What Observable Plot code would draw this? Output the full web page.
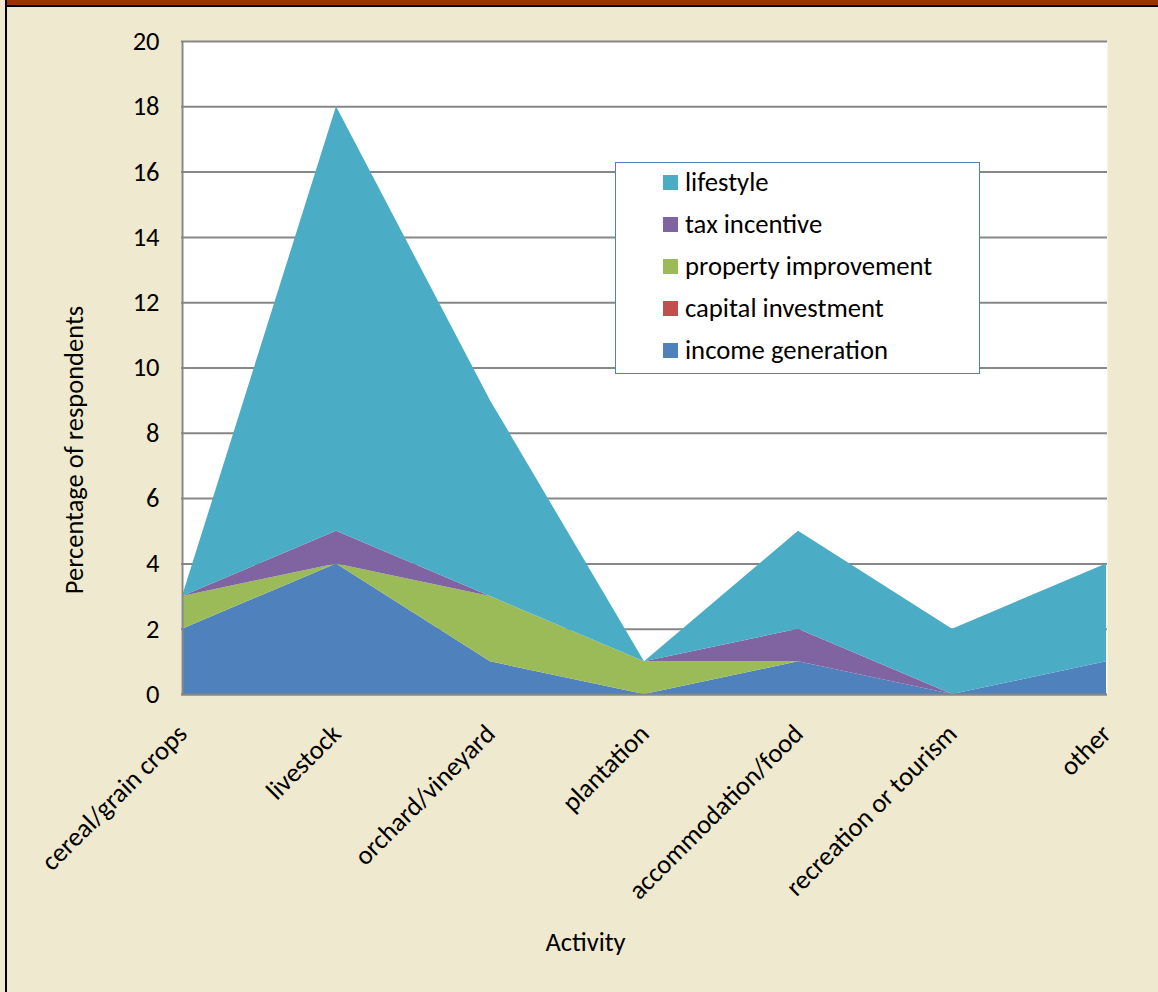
<!DOCTYPE html>
<html>
<head>
<meta charset="utf-8">
<script src="https://cdn.jsdelivr.net/npm/d3@7"></script>
<script src="https://cdn.jsdelivr.net/npm/@observablehq/plot@0.6"></script>
<style>
  html, body { margin: 0; padding: 0; }
  body { width: 1158px; height: 992px; overflow: hidden; background: #EFE9CF; font-family: Carlito, Lato, "Open Sans", sans-serif; }
  #page { position: relative; width: 1158px; height: 992px; background: #EFE9CF; }
  #band { position: absolute; left: 7px; top: 0; width: 1151px; height: 5px; background: #993300; }
  #bandLine { position: absolute; left: 5px; top: 5px; width: 1153px; height: 2px; background: #000; }
  #leftLine { position: absolute; left: 5px; top: 0; width: 2px; height: 992px; background: #000; }
  #chart { position: absolute; left: 0; top: 0; }
  #legend { position: absolute; left: 615px; top: 162px; width: 365px; height: 212px; background: #fff; border: 1.5px solid #4F81BD; box-sizing: border-box; }
  .item { position: absolute; left: 47px; height: 30px; display: flex; align-items: center; font-size: 26.7px; color: #000; white-space: nowrap; }
  .sw { width: 15px; height: 15px; margin-right: 7px; }
</style>
</head>
<body>
<div id="page">
  <div id="chart"></div>
  <div id="band"></div>
  <div id="bandLine"></div>
  <div id="leftLine"></div>
  <div id="legend"></div>
</div>
<script>
// Activities along the x axis
const categories = [
  "cereal/grain crops", "livestock", "orchard/vineyard", "plantation",
  "accommodation/food", "recreation or tourism", "other"
];

// Percentage of respondents per motivation (stacked bottom to top)
const incomeGeneration    = [2, 4, 1, 0, 1, 0, 1];
const capitalInvestment   = [0, 0, 0, 0, 0, 0, 0];
const propertyImprovement = [1, 0, 2, 1, 0, 0, 0];
const taxIncentive        = [0, 1, 0, 0, 1, 0, 0];
const lifestyle           = [0, 13, 6, 0, 3, 2, 3];

const seriesNames = ["income generation", "capital investment", "property improvement", "tax incentive", "lifestyle"];
const seriesColors = ["#4F81BD", "#C0504D", "#9BBB59", "#8064A2", "#4BACC6"];
const yTicks = [0, 2, 4, 6, 8, 10, 12, 14, 16, 18, 20];

const seriesValues = [incomeGeneration, capitalInvestment, propertyImprovement, taxIncentive, lifestyle];
const rows = [];
seriesNames.forEach((name, i) => {
  categories.forEach((c, j) => rows.push({activity: c, series: name, value: seriesValues[i][j]}));
});

const fontStack = "Carlito, Lato, 'Open Sans', sans-serif";
const fs = 26.5;

const chart = Plot.plot({
  width: 1158,
  height: 992,
  marginLeft: 181,
  marginRight: 51,
  marginTop: 41,
  marginBottom: 298,
  style: {background: "transparent", fontFamily: fontStack, fontSize: fs + "px", color: "#000"},
  x: {type: "point", domain: categories, padding: 0, label: null},
  y: {domain: [0, 20], label: null},
  color: {domain: seriesNames, range: seriesColors},
  marks: [
    Plot.frame({fill: "white", stroke: "none"}),
    Plot.ruleY(yTicks, {stroke: "#878787", strokeWidth: 2}),
    Plot.areaY(rows, Plot.stackY({x: "activity", y: "value", z: "series", fill: "series", order: seriesNames})),
    Plot.ruleX([categories[0]], {y1: 0, y2: 20, stroke: "#878787", strokeWidth: 2}),
    Plot.ruleY([0], {stroke: "#878787", strokeWidth: 2}),
    Plot.axisY({ticks: yTicks, tickSize: 0, tickPadding: 22, fontSize: fs, label: null}),
    Plot.axisX({tickSize: 0, tickRotate: -45, tickPadding: 35, fontSize: fs, label: null}),
    Plot.text(["Percentage of respondents"], {frameAnchor: "left", textAnchor: "middle", lineAnchor: "middle", dx: -107, dy: 82, rotate: -90, fontSize: fs}),
    Plot.text(["Activity"], {frameAnchor: "bottom", lineAnchor: "middle", dx: -59, dy: 248, fontSize: fs})
  ]
});
document.getElementById("chart").appendChild(chart);

// Legend, listed top to bottom in reverse stacking order
const legend = document.getElementById("legend");
seriesNames.slice().reverse().forEach((name, k) => {
  const item = document.createElement("div");
  item.className = "item";
  item.style.top = (4 + k * 42) + "px";
  const sw = document.createElement("span");
  sw.className = "sw";
  sw.style.background = seriesColors[seriesNames.indexOf(name)];
  item.appendChild(sw);
  item.appendChild(document.createTextNode(name));
  legend.appendChild(item);
});
</script>
</body>
</html>
